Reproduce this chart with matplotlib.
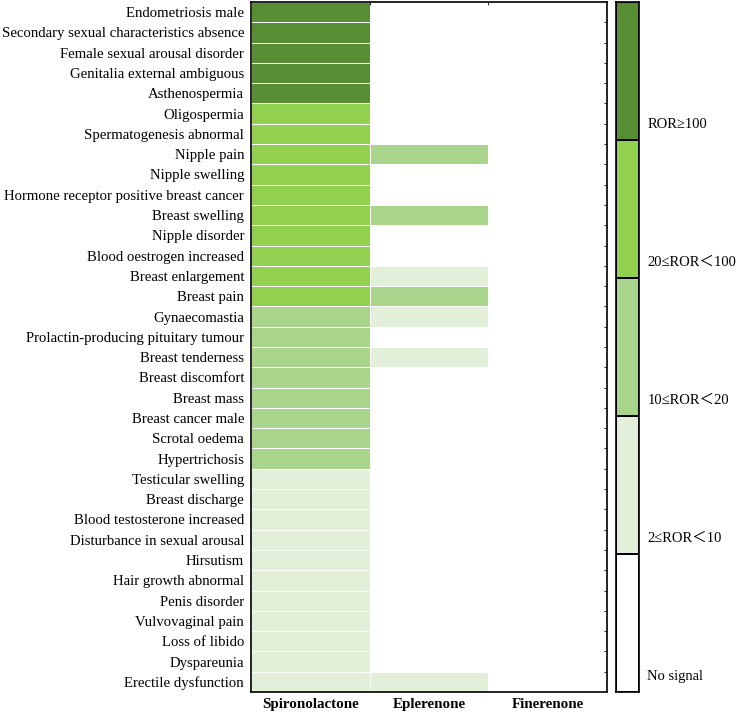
import numpy as np
import matplotlib
matplotlib.use("Agg")
import matplotlib.pyplot as plt
from matplotlib.colors import ListedColormap, BoundaryNorm

plt.rcParams['font.family'] = ['Liberation Serif', 'Noto Sans CJK SC', 'DejaVu Sans']

# adverse events (top to bottom)
events = [
    "Endometriosis male", "Secondary sexual characteristics absence",
    "Female sexual arousal disorder", "Genitalia external ambiguous",
    "Asthenospermia", "Oligospermia", "Spermatogenesis abnormal",
    "Nipple pain", "Nipple swelling", "Hormone receptor positive breast cancer",
    "Breast swelling", "Nipple disorder", "Blood oestrogen increased",
    "Breast enlargement", "Breast pain", "Gynaecomastia",
    "Prolactin-producing pituitary tumour", "Breast tenderness",
    "Breast discomfort", "Breast mass", "Breast cancer male", "Scrotal oedema",
    "Hypertrichosis", "Testicular swelling", "Breast discharge",
    "Blood testosterone increased", "Disturbance in sexual arousal",
    "Hirsutism", "Hair growth abnormal", "Penis disorder", "Vulvovaginal pain",
    "Loss of libido", "Dyspareunia", "Erectile dysfunction",
]
drugs = ["Spironolactone", "Eplerenone", "Finerenone"]

# signal level: 0 no signal, 1 2<=ROR<10, 2 10<=ROR<20, 3 20<=ROR<100, 4 ROR>=100
spironolactone = [4, 4, 4, 4, 4, 3, 3, 3, 3, 3, 3, 3, 3, 3, 3, 2, 2, 2, 2, 2, 2, 2, 2,
                  1, 1, 1, 1, 1, 1, 1, 1, 1, 1, 1]
eplerenone = [0, 0, 0, 0, 0, 0, 0, 2, 0, 0, 2, 0, 0, 1, 2, 1, 0, 1, 0, 0, 0, 0, 0,
              0, 0, 0, 0, 0, 0, 0, 0, 0, 0, 1]
finerenone = [0] * 34

levels = ["No signal", "2≤ROR＜10", "10≤ROR＜20", "20≤ROR＜100", "ROR≥100"]
colors = ["#FFFFFF", "#E2F0D9", "#A9D48C", "#92D050", "#578E33"]

cmap = ListedColormap(colors)
norm = BoundaryNorm(np.arange(-0.5, 5.5, 1), cmap.N)

data = np.array([spironolactone, eplerenone, finerenone]).T

fig = plt.figure(figsize=(7.39, 7.13), dpi=100)
ax = fig.add_axes([0.3397, 0.0295, 0.4817, 0.9677])
ax.pcolormesh(data, cmap=cmap, norm=norm, edgecolors="white", linewidth=0.6)
ax.set_xlim(0, 3)
ax.set_ylim(len(events), 0)
ax.set_yticks(np.arange(len(events)) + 0.5)
ax.set_yticklabels(events, fontsize=10.6)
ax.set_xticks(np.arange(3) + 0.5)
ax.set_xticklabels(drugs, fontsize=10.8, fontweight="bold")
ax.tick_params(axis="y", length=0, pad=5)
ax.tick_params(axis="x", length=0, pad=4)
ax.set_yticks(np.arange(1, len(events)), minor=True)
ax.set_xticks([1, 2], minor=True)
ax.tick_params(which="minor", direction="in", length=2, right=True, top=True,
               left=False, bottom=False, width=0.6)
for s in ax.spines.values():
    s.set_linewidth(1.2)

# legend bar
cax = fig.add_axes([0.8336, 0.0295, 0.0311, 0.9677])
cax.pcolormesh(np.arange(5).reshape(5, 1), cmap=cmap, norm=norm,
               edgecolors="black", linewidth=1.2)
cax.set_xlim(0, 1)
cax.set_ylim(0, 5)
cax.set_xticks([])
cax.yaxis.tick_right()
cax.set_yticks(np.arange(5) + 0.125)
cax.set_yticklabels(levels, fontsize=10.5)
cax.tick_params(length=0, pad=6)
for s in cax.spines.values():
    s.set_linewidth(1.2)

fig.savefig("out.png", dpi=100)
